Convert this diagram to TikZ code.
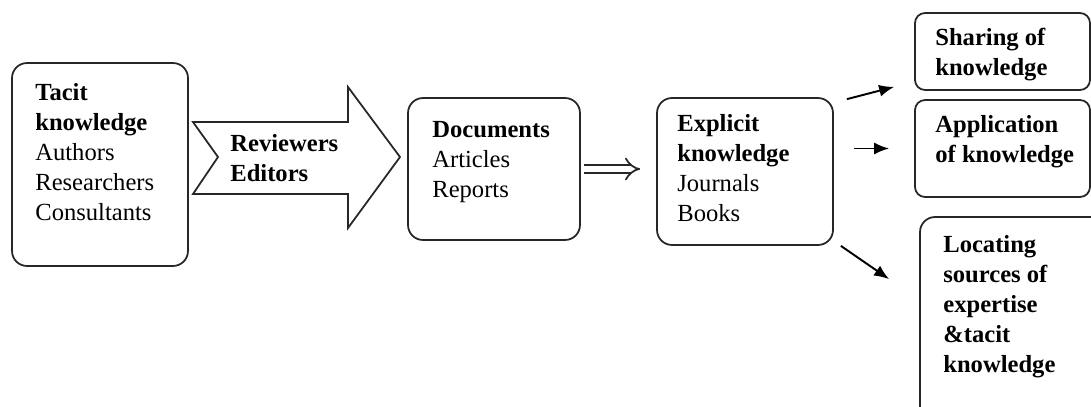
\documentclass[tikz,border=0pt]{standalone}
\usepackage{fontspec}
\setmainfont{Liberation Serif}
\usepackage{tikz}
\usetikzlibrary{arrows.meta}

\begin{document}
\begin{tikzpicture}[x=0.02cm,y=-0.02cm,
  box/.style={draw=black!85, line width=1pt, rounded corners=0.3cm},
  smallbox/.style={draw=black!85, line width=1pt, rounded corners=0.2cm},
  txt/.style={anchor=base west, inner sep=0pt, align=left,
    font=\fontsize{14}{17.07}\selectfont},
  arr/.style={line width=1.1pt, -{Latex[length=3mm,width=2.4mm]}}]
\useasboundingbox (0,0) rectangle (1091,406);
\clip (0,0) rectangle (1091,406);
% boxes
\node [box, minimum width=3.52cm, minimum height=4.06cm] (tacit) at (100,164.5) {};
\node [box, minimum width=3.44cm, minimum height=2.84cm] (docs) at (494,169) {};
\node [box, minimum width=3.52cm, minimum height=2.94cm] (expl) at (745,171.5) {};
\node [smallbox, minimum width=3.5cm, minimum height=1.54cm] (share) at (1002.5,51.5) {};
\node [smallbox, minimum width=3.5cm, minimum height=1.94cm] (appl) at (1002.5,148.5) {};
\node [box, minimum width=3.8cm, minimum height=4.4cm] (locate) at (1015,327) {};
% texts (base = last line)
\node [txt] (tacittxt) at (35,220) {\textbf{Tacit}\\\textbf{knowledge}\\Authors\\Researchers\\Consultants};
\node [txt] (doctxt) at (432,197) {\textbf{Documents}\\Articles\\Reports};
\node [txt] (expltxt) at (677,221) {\textbf{Explicit}\\\textbf{knowledge}\\Journals\\Books};
\node [txt] (sharetxt) at (935,75) {\textbf{Sharing of}\\\textbf{knowledge}};
\node [txt] (appltxt) at (935,162) {\textbf{Application}\\\textbf{of knowledge}};
\node [txt] (loctxt) at (943,372) {\textbf{Locating}\\\textbf{sources of}\\\textbf{expertise}\\\textbf{\&tacit}\\\textbf{knowledge}};
% big arrow
\draw [draw=black!85, line width=1pt, line join=miter] (193,122) -- (348,122) -- (348,87) -- (400,157)
  -- (348,228) -- (348,194) -- (193,194) -- (218,157) -- cycle;
\node [txt] (revtxt) at (230,181) {\textbf{Reviewers}\\\textbf{Editors}};
% connectors
\draw [black!85, line width=1pt, double, double distance=3.5pt, -{Implies[scale=1.8]}]
  ([xshift=0.06cm]docs.east) -- ([xshift=-0.32cm]docs.east -| expl.west);
\draw [arr] ([shift={(13,2)}]expl.north east) -- ([shift={(-20,-4)}]share.south west);
\draw [arr] ([shift={(20,-23)}]expl.east) -- ([shift={(-25,0)}]appl.west);
\draw [arr] ([shift={(7,0)}]expl.south east) -- ([shift={(-30,63)}]locate.north west);
\end{tikzpicture}
\end{document}
